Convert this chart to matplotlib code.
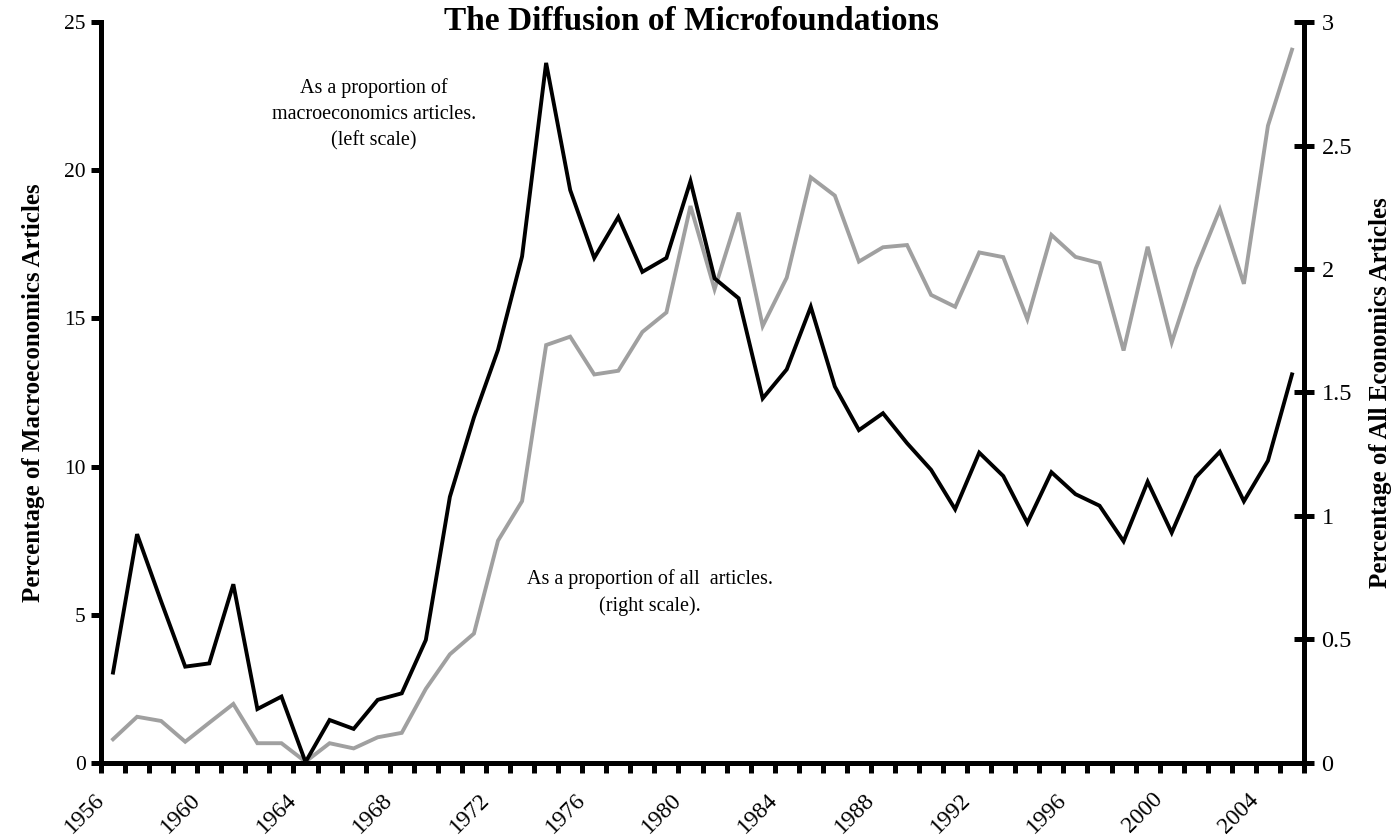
import numpy as np
import matplotlib
matplotlib.use('Agg')
import matplotlib.pyplot as plt
from matplotlib.ticker import FixedLocator, FormatStrFormatter

plt.rcParams['font.family'] = ['Liberation Serif', 'DejaVu Serif']

years = list(range(1956, 2006))

# share of macroeconomics articles (left scale, %)
macro_pct = [3.05, 7.72, 5.45, 3.25, 3.36, 6.03, 1.82, 2.24, 0.03, 1.45,
             1.15, 2.13, 2.35, 4.15, 8.98, 11.66, 13.94, 17.09, 23.62, 19.33,
             17.04, 18.42, 16.57, 17.04, 19.63, 16.35, 15.68, 12.30, 13.28, 15.39,
             12.70, 11.23, 11.80, 10.79, 9.89, 8.56, 10.47, 9.68, 8.10, 9.81,
             9.07, 8.68, 7.48, 9.49, 7.77, 9.64, 10.50, 8.83, 10.20, 13.11]

# share of all economics articles (right scale, %)
all_pct = [0.096, 0.187, 0.170, 0.086, 0.163, 0.239, 0.080, 0.080, 0.005, 0.080,
           0.059, 0.104, 0.122, 0.300, 0.440, 0.524, 0.900, 1.060, 1.692, 1.726,
           1.573, 1.588, 1.745, 1.824, 2.255, 1.918, 2.228, 1.769, 1.965, 2.371,
           2.297, 2.030, 2.088, 2.097, 1.895, 1.847, 2.067, 2.048, 1.797, 2.138,
           2.049, 2.024, 1.670, 2.090, 1.703, 2.002, 2.241, 1.940, 2.580, 2.888]

label_years = years[::4]

fig = plt.figure(figsize=(13.95, 8.4), dpi=100)
ax = fig.add_axes([0.0724, 0.0917, 0.8624, 0.8821])
ax2 = ax.twinx()
ax.set_zorder(ax2.get_zorder() + 1)
ax.patch.set_visible(False)

pos = np.arange(len(years)) + 0.5   # categories sit between tick marks
ax2.plot(pos, all_pct, color='#a0a0a0', lw=2.8, solid_joinstyle='miter')
ax.plot(pos, macro_pct, color='black', lw=2.8, solid_joinstyle='miter')

ax.set_xlim(0, len(years))
ax.set_ylim(0, 25)
ax2.set_ylim(0, 3)

ax.xaxis.set_major_locator(FixedLocator(np.arange(0, len(years) + 1)))
ax.set_xticklabels([str(y) if y in label_years else ''
                    for y in range(years[0], years[0] + len(years) + 1)],
                   rotation=45, ha='right', va='center', rotation_mode='anchor',
                   fontsize=17)
ax.set_yticks(np.arange(0, 26, 5))
ax2.set_yticks(np.arange(0, 3.01, 0.5))
ax2.yaxis.set_major_formatter(FormatStrFormatter('%g'))

for s in ['top', 'right']:
    ax.spines[s].set_visible(False)
for s in ['top', 'left', 'bottom']:
    ax2.spines[s].set_visible(False)
ax.spines['left'].set_linewidth(3.6)
ax.spines['bottom'].set_linewidth(3.6)
ax2.spines['right'].set_linewidth(3.6)

ax.tick_params(axis='x', direction='out', length=7, width=3.6, pad=17)
ax.tick_params(axis='y', direction='out', length=7, width=3.6, labelsize=15.5, pad=4)
ax2.tick_params(axis='y', direction='inout', length=15, width=3.6, labelsize=17.5, pad=5)

ax.set_ylabel('Percentage of Macroeconomics Articles', fontsize=18,
              fontweight='bold', labelpad=14)
ax2.set_ylabel('Percentage of All Economics Articles', fontsize=18,
               fontweight='bold', labelpad=12, rotation=90)

fig.text(0.496, 0.975, 'The Diffusion of Microfoundations', ha='center',
         va='center', fontsize=24, fontweight='bold')

ax.text(11.35, 21.9, 'As a proportion of\nmacroeconomics articles.\n(left scale)',
        ha='center', va='center', fontsize=14.5, linespacing=1.5)
ax.text(22.8, 5.75, 'As a proportion of all  articles.\n(right scale).',
        ha='center', va='center', fontsize=14.5, linespacing=1.5)

fig.savefig('out.png', dpi=100)
